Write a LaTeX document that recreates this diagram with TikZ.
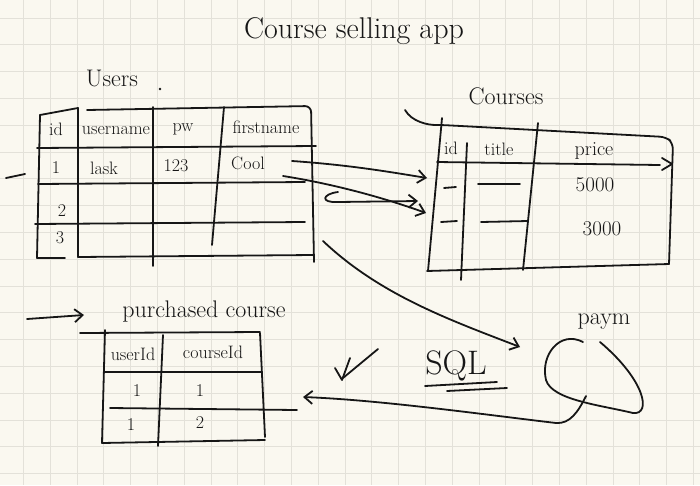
\documentclass[tikz,border=0pt]{standalone}
\usepackage{tikz}
\usetikzlibrary{arrows.meta,positioning,calc}
\definecolor{paper}{HTML}{FAF8F0}
\definecolor{gridline}{HTML}{E3E1D9}
\definecolor{ink}{HTML}{161616}
\tikzstyle{pen}=[ink,line width=1.8pt,line cap=round,line join=round]
\tikzstyle{arr}=[pen,-{Straight Barb[length=8pt,width=13pt]}]
\tikzstyle{txt}=[ink,inner sep=1pt,font=\fontsize{18}{20}\selectfont]
\tikzstyle{lbl}=[ink,inner sep=1pt,font=\fontsize{24}{27}\selectfont]
\tikzstyle{headtxt}=[ink,inner sep=1pt,font=\fontsize{30}{34}\selectfont]

\begin{document}
\begin{tikzpicture}[x=1pt,y=-1pt]
    \fill[paper] (0,0) rectangle (700,485);
    \useasboundingbox (0,0) rectangle (700,485);

    % squared paper
    \foreach \i in {0,...,25} {
      \draw[gridline,line width=1pt] ({23.5+26.8*\i},0) -- ++(0,485);
    }
    \foreach \j in {0,...,17} {
      \draw[gridline,line width=1pt] (0,{18+26.8*\j}) -- ++(700,0);
    }

    \node [headtxt] (ttl) at (354,31) {Course selling app};

    % users table
    \node [lbl] (usr) at (112,78) {Users};
    \fill [ink] (160,89) circle (1.4pt);
    \draw [pen,rounded corners=6pt] (87,110) -- (311,106) -- (314,262);
    \draw [pen] (78,257) -- (313,255);
    \draw [pen] (40,115) -- (78,108);
    \draw [pen] (40,115) -- (37,258) -- (65,258);
    \draw [pen] (78,108) -- (78,257);
    \draw [pen] (153,107) -- (153,266);
    \draw [pen] (224,107) -- (212,245);
    \draw [pen] (37,148) -- (316,146);
    \draw [pen] (38,184) -- (305,182);
    \draw [pen] (35,224) -- (305,222);
    \draw [pen] (6,178) -- (25,174);

    \node [txt] (uid) at (56,129) {id};
    \node [txt] (uname) at (116,131) {username};
    \node [txt] (upw) at (183,129) {pw};
    \node [txt] (ufirst) at (266,127) {firstname};
    \node [txt] (u1id) at (56,168) {1};
    \node [txt] (u1name) at (104,168) {lask};
    \node [txt] (u1pw) at (176,166) {123};
    \node [txt] (u1first) at (248,163) {Cool};
    \node [txt] (u2id) at (62,211) {2};
    \node [txt] (u3id) at (60,238) {3};

    % courses table
    \node [lbl] (crs) at (506,96) {Courses};
    \draw [pen,rounded corners=6pt] (405,110) .. controls (412,122) and (428,125) .. (442,125)
      -- (666,137) -- (673,143) -- (669,264);
    \draw [pen] (669,264) -- (427,271);
    \draw [pen] (442,118) -- (428,271);
    \draw [pen] (467,143) -- (461,280);
    \draw [pen] (538,123) -- (523,270);
    \draw [pen] (437,162) -- (660,165);
    \draw [pen] (662,158) -- (672,164) -- (662,170);

    \node [txt] (cid) at (451,148) {id};
    \node [txt] (ctitle) at (499,149) {title};
    \node [txt,font=\fontsize{20}{22}\selectfont] (cprice) at (594,151) {price};
    \node [txt,font=\fontsize{21}{23}\selectfont] (c1price) at (595,185) {5000};
    \node [txt,font=\fontsize{21}{23}\selectfont] (c2price) at (602,229) {3000};
    \draw [pen] (444,188) -- (456,187);
    \draw [pen] (441,222) -- (457,221);
    \draw [pen] (478,184) -- (520,184);
    \draw [pen] (481,222) -- (528,221);

    % links from users to courses
    \coordinate (fromA) at (292,161);
    \coordinate (toA) at (427,178);
    \coordinate (fromB) at (283,176);
    \coordinate (toB) at (426,213);
    \coordinate (fromC) at (338,192);
    \coordinate (toC) at (418,201);
    \draw [arr] (fromA) .. controls (350,165) and (390,172) .. (toA);
    \draw [arr] (fromB) .. controls (340,185) and (390,200) .. (toB);
    \draw [arr] (fromC) .. controls (322,194) and (320,203) .. (338,202) -- (toC);

    % to payment
    \node [lbl] (pay) at (604,322) {paym};
    \coordinate (fromU) at (323,241);
    \coordinate (toPay) at (520,347);
    \draw [arr] (fromU) .. controls (380,295) and (450,320) .. (toPay);
    \draw [pen] (583,342) .. controls (560,330) and (540,355) .. (546,380)
      .. controls (552,400) and (600,405) .. (633,413)
      .. controls (652,415) and (645,380) .. (600,342);

    % sql
    \draw [pen] (335,368) -- (342,380) -- (350,358);
    \draw [pen] (343,378) -- (378,349);
    \node [headtxt,font=\fontsize{34}{38}\selectfont] (sql) at (456,366) {SQL};
    \draw [pen] (425,386) -- (497,382);
    \draw [pen] (447,391) -- (507,388);

    % purchased course table
    \node [lbl] (pc) at (204,312) {purchased course};
    \coordinate (inArr) at (27,319);
    \coordinate (inTip) at (84,315);
    \draw [arr] (inArr) -- (inTip);
    \draw [pen] (80,333) -- (260,332);
    \draw [pen] (105,330) -- (102,443);
    \draw [pen] (163,335) -- (158,446);
    \draw [pen] (260,333) -- (265,437);
    \draw [pen] (105,372) -- (262,372);
    \draw [pen] (110,408) -- (297,410);
    \draw [pen] (102,443) -- (265,440);

    \node [txt] (puser) at (133,354) {userId};
    \node [txt] (pcourse) at (213,352) {courseId};
    \node [txt] (p1user) at (137,391) {1};
    \node [txt] (p1course) at (200,391) {1};
    \node [txt] (p2user) at (131,425) {1};
    \node [txt] (p2course) at (200,423) {2};

    % back from payment
    \coordinate (fromPay) at (586,396);
    \coordinate (toPc) at (303,397);
    \draw [arr] (fromPay) .. controls (578,412) and (570,424) .. (556,423)
      .. controls (480,414) and (380,400) .. (toPc);
\end{tikzpicture}
\end{document}
